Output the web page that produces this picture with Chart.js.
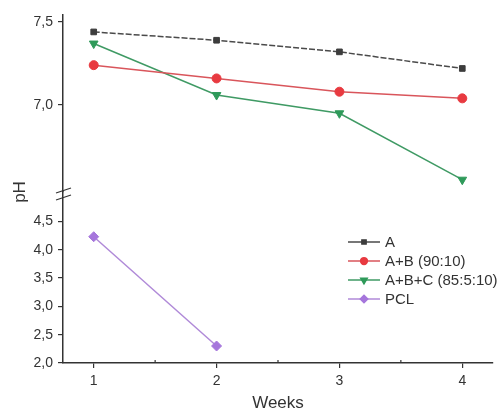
<!DOCTYPE html>
<html>
<head>
<meta charset="utf-8">
<script src="https://cdn.jsdelivr.net/npm/chart.js@4/dist/chart.umd.min.js"></script>
<style>
  html, body { margin: 0; padding: 0; background: #fff; }
  #wrap { width: 499px; height: 414px; }
</style>
</head>
<body>
<div id="wrap"><canvas id="phChart"></canvas></div>
<script>
// pH per week
const weeks = [1, 2, 3, 4];
const phA = [7.44, 7.39, 7.32, 7.22];
const phAB = [7.24, 7.16, 7.08, 7.04];
const phABC = [7.37, 7.06, 6.95, 6.55];
const phPCL = [4.23, 2.30];

const labels = ['A', 'A+B (90:10)', 'A+B+C (85:5:10)', 'PCL'];
const upperTicks = [7.0, 7.5];
const lowerTicks = [2.0, 2.5, 3.0, 3.5, 4.0, 4.5];
const xTicks = [1, 2, 3, 4];
const xMinorTicks = [1.5, 2.5, 3.5];

const axisColor = '#333';
const textColor = '#333';
const fontFamily = '"Liberation Sans", Arial, sans-serif';

function pairs(ys) {
    return ys.map((y, i) => ({ x: weeks[i], y: y }));
}
function comma(v) {
    return Number(v).toFixed(1).replace('.', ',');
}

// break marks, minor ticks, the y title and the legend
const extras = {
    id: 'extras',
    afterDraw(chart) {
        const ctx = chart.ctx;
        const top = chart.scales.yTop;
        const bot = chart.scales.yBot;
        const x = chart.scales.x;
        const area = chart.chartArea;
        ctx.save();

        // minor ticks on the x axis (pointing in)
        ctx.strokeStyle = axisColor;
        ctx.lineWidth = 1.2;
        xMinorTicks.forEach(v => {
            const px = x.getPixelForValue(v);
            ctx.beginPath();
            ctx.moveTo(px, area.bottom);
            ctx.lineTo(px, area.bottom - 3);
            ctx.stroke();
        });

        // axis break
        const by = top.bottom + 2;
        const bx = area.left;
        ctx.strokeStyle = axisColor;
        ctx.lineWidth = 1.2;
        [-3.5, 3.5].forEach(d => {
            ctx.beginPath();
            ctx.moveTo(bx - 7, by + d + 2.5);
            ctx.lineTo(bx + 8, by + d - 2.5);
            ctx.stroke();
        });

        // y title
        ctx.fillStyle = textColor;
        ctx.font = '17px ' + fontFamily;
        ctx.textAlign = 'center';
        ctx.textBaseline = 'middle';
        ctx.translate(20, (top.top + bot.bottom) / 2 + 3);
        ctx.rotate(-Math.PI / 2);
        ctx.fillText('pH', 0, 0);
        ctx.setTransform(1, 0, 0, 1, 0, 0);

        // legend
        const lx = 348, ly = 242, step = 19;
        ctx.font = '15px ' + fontFamily;
        ctx.textAlign = 'left';
        chart.data.datasets.forEach((ds, i) => {
            const y = ly + i * step;
            ctx.strokeStyle = ds.borderColor;
            ctx.lineWidth = 1.5;
            ctx.setLineDash([]);
            ctx.beginPath();
            ctx.moveTo(lx, y);
            ctx.lineTo(lx + 32, y);
            ctx.stroke();
            ctx.fillStyle = ds.pointBackgroundColor;
            ctx.strokeStyle = ds.pointBackgroundColor;
            Chart.helpers.drawPoint(ctx, {
                pointStyle: ds.pointStyle,
                radius: ds.pointRadius * 0.75,
                rotation: ds.pointRotation || 0,
                borderWidth: 1
            }, lx + 16, y);
            ctx.fillStyle = textColor;
            ctx.fillText(ds.label, lx + 37, y + 1);
        });
        ctx.restore();
    }
};

const tickFont = { family: fontFamily, size: 14 };

const chart = new Chart(document.getElementById('phChart'), {
    type: 'line',
    data: {
        datasets: [{
            label: labels[0],
            data: pairs(phA),
            yAxisID: 'yTop',
            borderColor: '#4a4a4a',
            borderDash: [6, 2],
            pointBackgroundColor: '#3d3d3d',
            pointBorderColor: '#3d3d3d',
            pointStyle: 'rect',
            pointRadius: 4
        }, {
            label: labels[1],
            data: pairs(phAB),
            yAxisID: 'yTop',
            borderColor: '#d9555b',
            pointBackgroundColor: '#e83a40',
            pointBorderColor: '#e83a40',
            pointStyle: 'circle',
            pointRadius: 4.5
        }, {
            label: labels[2],
            data: pairs(phABC),
            yAxisID: 'yTop',
            borderColor: '#3f9a64',
            pointBackgroundColor: '#2f9a5a',
            pointBorderColor: '#2f9a5a',
            pointStyle: 'triangle',
            pointRotation: 180,
            pointRadius: 5
        }, {
            label: labels[3],
            data: pairs(phPCL),
            yAxisID: 'yBot',
            borderColor: '#b08ad8',
            pointBackgroundColor: '#a676dc',
            pointBorderColor: '#a676dc',
            pointStyle: 'rectRot',
            pointRadius: 5
        }]
    },
    options: {
        responsive: true,
        maintainAspectRatio: false,
        animation: false,
        events: [],
        layout: { padding: { top: 15, right: 6, left: 0, bottom: 0 } },
        elements: { line: { borderWidth: 1.5, tension: 0 }, point: { borderWidth: 1 } },
        plugins: { legend: { display: false }, tooltip: { enabled: false } },
        scales: {
            x: {
                type: 'linear',
                min: 0.75,
                max: 4.25,
                afterBuildTicks: s => { s.ticks = xTicks.map(v => ({ value: v })); },
                ticks: { font: tickFont, color: textColor, padding: 5 },
                grid: { drawOnChartArea: false, tickLength: 5, color: axisColor, lineWidth: 1.2 },
                border: { color: axisColor, width: 1.5 },
                title: { display: true, text: 'Weeks', color: textColor, font: { family: fontFamily, size: 17 }, padding: { top: 7, bottom: 0 } },
                afterFit: s => { s.height = 51; }
            },
            // left boxes are laid out in reverse order, so the lower axis comes first
            yBot: {
                type: 'linear',
                position: 'left',
                stack: 'ph',
                stackWeight: 171,
                min: 2.0,
                max: 5.02,
                afterBuildTicks: s => { s.ticks = lowerTicks.map(v => ({ value: v })); },
                ticks: { font: tickFont, color: textColor, padding: 5, autoSkip: false, callback: v => comma(v) },
                grid: { drawOnChartArea: false, tickLength: 5, color: axisColor, lineWidth: 1.2 },
                border: { color: axisColor, width: 1.5 },
                afterFit: s => { s.width = 63; }
            },
            yTop: {
                type: 'linear',
                position: 'left',
                stack: 'ph',
                stackWeight: 177,
                min: 6.476,
                max: 7.542,
                afterBuildTicks: s => { s.ticks = upperTicks.map(v => ({ value: v })); },
                ticks: { font: tickFont, color: textColor, padding: 5, autoSkip: false, callback: v => comma(v) },
                grid: { drawOnChartArea: false, tickLength: 5, color: axisColor, lineWidth: 1.2 },
                border: { color: axisColor, width: 1.5 },
                afterFit: s => { s.width = 63; }
            }
        }
    },
    plugins: [extras]
});
</script>
</body>
</html>
